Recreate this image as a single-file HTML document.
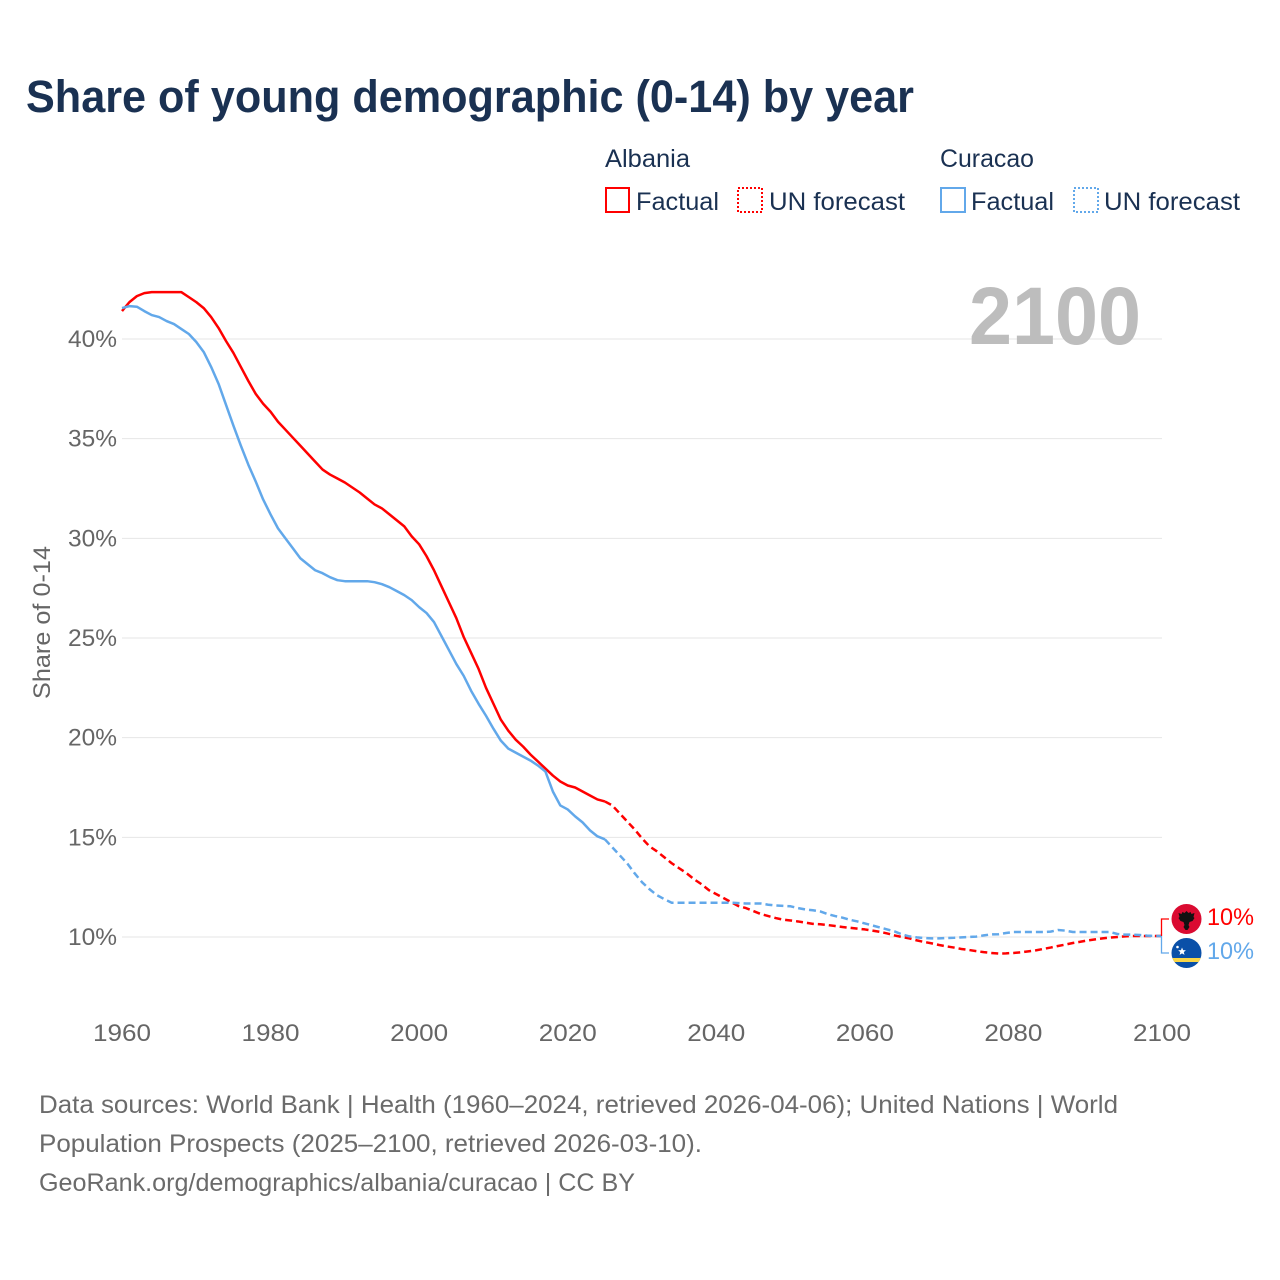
<!DOCTYPE html>
<html lang="en">
<head>
<meta charset="utf-8">
<title>Share of young demographic (0-14) by year</title>
<style>
html,body{margin:0;padding:0;background:#fff;width:1280px;height:1280px;overflow:hidden}
svg{display:block}
text{font-family:"Liberation Sans",sans-serif}
</style>
</head>
<body>
<svg id="chart" xmlns="http://www.w3.org/2000/svg" width="1280" height="1280" viewBox="0 0 1280 1280">
  <defs>
    <clipPath id="clip-al"><circle cx="1186.5" cy="919" r="15"/></clipPath>
    <clipPath id="clip-cw"><circle cx="1186.5" cy="953" r="15"/></clipPath>
  </defs>
  <text x="26" y="112" font-size="45" font-weight="700" fill="#1a3152" textLength="888" lengthAdjust="spacingAndGlyphs">Share of young demographic (0-14) by year</text>

  <g font-size="25" fill="#1a3152">
    <text x="605" y="167" textLength="85" lengthAdjust="spacingAndGlyphs">Albania</text>
    <rect x="606" y="188" width="23" height="24" fill="none" stroke="#ff0000" stroke-width="2"/>
    <text x="636" y="210" textLength="83" lengthAdjust="spacingAndGlyphs">Factual</text>
    <rect x="738" y="188" width="24" height="24" fill="none" stroke="#ff0000" stroke-width="2" stroke-dasharray="2 2"/>
    <text x="769" y="210" textLength="136" lengthAdjust="spacingAndGlyphs">UN forecast</text>
    <text x="940" y="167" textLength="94" lengthAdjust="spacingAndGlyphs">Curacao</text>
    <rect x="941" y="188" width="24" height="24" fill="none" stroke="#62a8ea" stroke-width="2"/>
    <text x="971" y="210" textLength="83" lengthAdjust="spacingAndGlyphs">Factual</text>
    <rect x="1074" y="188" width="24" height="24" fill="none" stroke="#62a8ea" stroke-width="2" stroke-dasharray="2 2"/>
    <text x="1104" y="210" textLength="136" lengthAdjust="spacingAndGlyphs">UN forecast</text>
  </g>

  <g id="grid"></g>
  <text x="969" y="344" font-size="82" font-weight="700" fill="#bdbdbd" textLength="172" lengthAdjust="spacingAndGlyphs">2100</text>
  <g id="y-axis"></g>
  <g id="x-axis"></g>
  <text transform="translate(50,699) rotate(-90)" font-size="24" fill="#666666" textLength="153" lengthAdjust="spacingAndGlyphs">Share of 0-14</text>
  <g id="series"></g>

  <path d="M1161.5 936V919H1169" fill="none" stroke="#ff0000" stroke-width="1.3"/>
  <path d="M1161.5 936V953H1169" fill="none" stroke="#62a8ea" stroke-width="1.3"/>

  <g clip-path="url(#clip-al)">
    <rect x="1171" y="904" width="31" height="30" fill="#da0b31"/>
    <path d="M1186.5 911l2 2 2-1 1 2 3-1-1 4 1 1-2 3-3 1-1 3 1 2-2 3h-2l-2-3 1-2-1-3-3-1-2-3 1-1-1-4 3 1 1-2 2 1z" fill="#111"/>
  </g>
  <g clip-path="url(#clip-cw)">
    <rect x="1171" y="938" width="31" height="30" fill="#0a50a8"/>
    <rect x="1171" y="958" width="31" height="4" fill="#f9d648"/>
    <path d="M1182 947.5l1.1 2.6 2.8.2-2.1 1.8.7 2.8-2.5-1.5-2.4 1.5.7-2.8-2.1-1.8 2.8-.2z" fill="#fff"/>
    <circle cx="1177.5" cy="947" r="1.3" fill="#fff"/>
  </g>
  <text x="1207" y="925" font-size="24" fill="#ff0000" textLength="47" lengthAdjust="spacingAndGlyphs">10%</text>
  <text x="1207" y="959" font-size="24" fill="#62a8ea" textLength="47" lengthAdjust="spacingAndGlyphs">10%</text>

  <g font-size="25" fill="#6b6b6b">
    <text x="39" y="1113" textLength="1079" lengthAdjust="spacingAndGlyphs">Data sources: World Bank | Health (1960–2024, retrieved 2026-04-06); United Nations | World</text>
    <text x="39" y="1152" textLength="663" lengthAdjust="spacingAndGlyphs">Population Prospects (2025–2100, retrieved 2026-03-10).</text>
    <text x="39" y="1191" textLength="596" lengthAdjust="spacingAndGlyphs">GeoRank.org/demographics/albania/curacao | CC BY</text>
  </g>
</svg>
<script>
const factualStartYear = 1960;
const forecastStartYear = 2025;
const yTickLabels = [10, 15, 20, 25, 30, 35, 40];
const xTickLabels = [1960, 1980, 2000, 2020, 2040, 2060, 2080, 2100];
const albaniaFactual = [
  41.4,41.85,42.15,42.3,42.35,42.35,42.35,42.35,42.35,42.1,
  41.85,41.55,41.1,40.55,39.9,39.3,38.6,37.9,37.25,36.75,
  36.35,35.85,35.45,35.05,34.65,34.25,33.85,33.45,33.2,33.0,
  32.8,32.55,32.3,32.0,31.7,31.5,31.2,30.9,30.6,30.1,
  29.7,29.1,28.4,27.6,26.8,26.0,25.05,24.25,23.45,22.5,
  21.7,20.9,20.35,19.9,19.55,19.15,18.8,18.45,18.1,17.8,
  17.6,17.5,17.3,17.1,16.9,16.8
];
const albaniaForecast = [
  16.8,16.6,16.2,15.8,15.4,14.95,14.55,14.3,14.0,13.7,13.45,13.2,12.9,12.65,12.35,12.15,11.95,11.75,
  11.55,11.45,11.3,11.15,11.05,10.95,10.87,
  10.83,10.78,10.72,10.66,10.64,10.6,10.55,10.5,10.46,10.42,
  10.38,10.32,10.26,10.18,10.08,10.0,9.93,9.83,9.75,9.68,
  9.6,9.53,9.47,9.4,9.35,9.29,9.24,9.2,9.17,9.18,
  9.2,9.23,9.28,9.33,9.4,9.47,9.55,9.62,9.7,9.76,
  9.83,9.88,9.93,9.97,10.0,10.03,10.05,10.05,10.05,10.05,10.05
];
const curacaoFactual = [
  41.55,41.65,41.62,41.4,41.2,41.1,40.9,40.75,40.5,40.25,
  39.85,39.35,38.6,37.75,36.7,35.65,34.65,33.7,32.85,31.95,
  31.2,30.5,30.0,29.5,29.0,28.7,28.4,28.25,28.05,27.9,
  27.85,27.85,27.85,27.85,27.8,27.7,27.55,27.35,27.15,26.9,
  26.55,26.25,25.8,25.1,24.4,23.7,23.1,22.35,21.7,21.1,
  20.45,19.85,19.45,19.25,19.05,18.85,18.6,18.3,17.3,16.6,
  16.4,16.05,15.75,15.35,15.05,14.9
];
const curacaoForecast = [
  14.9,14.5,14.1,13.7,13.2,12.75,12.4,12.1,11.9,11.72,
  11.72,11.72,11.72,11.72,11.72,11.72,11.72,11.72,
  11.7,11.68,11.68,11.68,11.62,11.58,11.56,
  11.54,11.45,11.38,11.34,11.28,11.15,11.05,10.97,10.86,10.78,
  10.68,10.58,10.48,10.38,10.28,10.13,10.03,9.98,9.95,9.93,
  9.93,9.95,9.96,9.98,10.0,10.02,10.08,10.13,10.14,10.2,
  10.25,10.25,10.25,10.25,10.25,10.27,10.35,10.32,10.25,10.25,
  10.25,10.25,10.25,10.25,10.15,10.12,10.12,10.1,10.07,10.05,10.05
];

const NS = 'http://www.w3.org/2000/svg';
function xScale(year) { return 122 + (year - 1960) * (1040 / 140); }
function yScale(pct) { return 937 - (pct - 10) * (598 / 30); }

function linePath(values, startYear) {
  return values.map(function (v, i) {
    return (i ? 'L' : 'M') + xScale(startYear + i).toFixed(2) + ' ' + yScale(v).toFixed(2);
  }).join('');
}

const gridGroup = document.getElementById('grid');
const yAxisGroup = document.getElementById('y-axis');
const xAxisGroup = document.getElementById('x-axis');
const seriesGroup = document.getElementById('series');

yTickLabels.forEach(function (t) {
  const line = document.createElementNS(NS, 'line');
  
  
  line.setAttribute('x1', xScale(1960));
  line.setAttribute('x2', xScale(2100));
  line.setAttribute('y1', yScale(t));
  line.setAttribute('y2', yScale(t));
  line.setAttribute('stroke', '#e6e6e6');
  line.setAttribute('stroke-width', '1');
  gridGroup.appendChild(line);

  const label = document.createElementNS(NS, 'text');
  
  
  label.setAttribute('x', 68);
  label.setAttribute('y', yScale(t) + 8);
  label.setAttribute('font-size', '24');
  label.setAttribute('fill', '#666666');
  label.setAttribute('textLength', '49');
  label.setAttribute('lengthAdjust', 'spacingAndGlyphs');
  label.textContent = t + '%';
  yAxisGroup.appendChild(label);
});

xTickLabels.forEach(function (t) {
  const label = document.createElementNS(NS, 'text');
  
  
  label.setAttribute('x', xScale(t) - 29);
  label.setAttribute('y', 1041);
  label.setAttribute('font-size', '24');
  label.setAttribute('fill', '#666666');
  label.setAttribute('textLength', '58');
  label.setAttribute('lengthAdjust', 'spacingAndGlyphs');
  label.textContent = t;
  xAxisGroup.appendChild(label);
});

function addSeries(name, values, startYear, color, dashed) {
  const path = document.createElementNS(NS, 'path');
  
  
  path.setAttribute('d', linePath(values, startYear));
  path.setAttribute('fill', 'none');
  path.setAttribute('stroke', color);
  path.setAttribute('stroke-width', '2.5');
  path.setAttribute('stroke-linejoin', 'round');
  if (dashed) path.setAttribute('stroke-dasharray', '7 4');
  seriesGroup.appendChild(path);
}

addSeries('albania-factual-line', albaniaFactual, factualStartYear, '#ff0000', false);
addSeries('albania-forecast-line', albaniaForecast, forecastStartYear, '#ff0000', true);
addSeries('curacao-factual-line', curacaoFactual, factualStartYear, '#62a8ea', false);
addSeries('curacao-forecast-line', curacaoForecast, forecastStartYear, '#62a8ea', true);
</script>
</body>
</html>
